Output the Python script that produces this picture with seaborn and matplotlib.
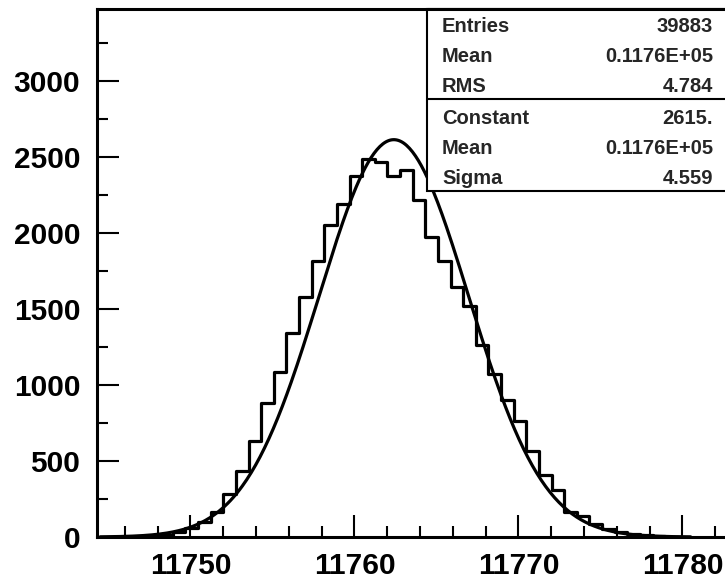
import matplotlib
import numpy as np
import pandas as pd
import seaborn as sns

matplotlib.use("Agg")
import matplotlib.pyplot as plt
from matplotlib.patches import Rectangle
from matplotlib.ticker import MultipleLocator

# histogram: first bin edge, bin width, counts per bin
first_edge = 11745.84
bin_width = 0.77
counts = [
    1, 3, 7, 15, 30, 57, 97, 167, 281, 432, 635, 885, 1088, 1345, 1577,
    1818, 2053, 2192, 2375, 2485, 2470, 2375, 2414, 2217, 1976, 1814, 1647,
    1520, 1261, 1075, 901, 765, 566, 406, 309, 167, 136, 85, 55, 33, 20,
    12, 6, 3, 1,
]

# gaussian fit parameters
fit_constant = 2615.0
fit_mean = 11762.4
fit_sigma = 4.559

# stats box
stat_names = ["Entries", "Mean", "RMS"]
stat_values = ["39883", "0.1176E+05", "4.784"]
fit_names = ["Constant", "Mean", "Sigma"]
fit_values = ["2615.", "0.1176E+05", "4.559"]

x_ticks = [11750, 11760, 11770, 11780]
y_ticks = [0, 500, 1000, 1500, 2000, 2500, 3000]

W, H = 725, 581

sns.set_theme(style="ticks")
plt.rcParams["font.family"] = ["Liberation Sans", "DejaVu Sans"]
plt.rcParams["font.weight"] = "bold"

fig = plt.figure(figsize=(W / 100, H / 100), dpi=100)
ax = fig.add_axes([97 / W, (H - 537) / H, (730 - 97) / W, (537 - 9) / H])

edges = first_edge + bin_width * np.arange(len(counts) + 1)
hist_df = pd.DataFrame({"x": (edges[:-1] + edges[1:]) / 2, "count": counts})

sns.histplot(
    data=hist_df,
    x="x",
    weights="count",
    bins=list(edges),
    element="step",
    fill=False,
    color="black",
    linewidth=2.3,
    ax=ax,
)

xs = np.linspace(11744.5, 11780.5, 400)
ys = fit_constant * np.exp(-0.5 * ((xs - fit_mean) / fit_sigma) ** 2)
sns.lineplot(x=xs, y=ys, color="black", linewidth=2.3, ax=ax)

ax.set_xlim(11744.3, 11782.9)
ax.set_ylim(0, 3475)
ax.set_xticks(x_ticks)
ax.set_yticks(y_ticks)
ax.xaxis.set_minor_locator(MultipleLocator(2))
ax.yaxis.set_minor_locator(MultipleLocator(250))
ax.set_xticklabels([str(v) for v in x_ticks], fontsize=21.5, fontweight="bold")
ax.set_yticklabels([str(v) for v in y_ticks], fontsize=21.5, fontweight="bold")
ax.tick_params(which="major", direction="in", length=16, width=1.5, colors="black")
ax.tick_params(which="minor", direction="in", length=8, width=1.5, colors="black")
ax.tick_params(axis="x", which="major", pad=11)
ax.tick_params(axis="y", which="major", pad=12)
ax.set_xlabel("")
ax.set_ylabel("")
for side in ["left", "bottom", "top"]:
    ax.spines[side].set_linewidth(2.2)
    ax.spines[side].set_color("black")
ax.spines["right"].set_visible(False)


# stats box in pixel coordinates of the figure
def fx(px):
    return px / W


def fy(py):
    return 1 - py / H


box = Rectangle(
    (fx(427), fy(190.5)), fx(740) - fx(427), fy(9) - fy(190.5),
    transform=fig.transFigure, facecolor="white", edgecolor="black",
    linewidth=1.5, zorder=5,
)
fig.add_artist(box)
fig.add_artist(
    plt.Line2D([fx(427), fx(725)], [fy(99.3), fy(99.3)], transform=fig.transFigure,
               color="black", linewidth=1.5, zorder=6)
)
fig.add_artist(
    plt.Line2D([fx(427), fx(725)], [fy(9), fy(9)], transform=fig.transFigure,
               color="black", linewidth=2.2, zorder=6)
)

rows_y = [25, 55, 85, 117, 147, 177]
names = stat_names + fit_names
values = stat_values + fit_values
for py, name, value in zip(rows_y, names, values):
    fig.text(fx(442), fy(py), name, ha="left", va="center_baseline", fontsize=14.5,
             fontweight="bold", zorder=7)
    fig.text(fx(713), fy(py), value, ha="right", va="center_baseline", fontsize=14.5,
             fontweight="bold", zorder=7)

fig.savefig("out.png", dpi=100)
plt.close(fig)
